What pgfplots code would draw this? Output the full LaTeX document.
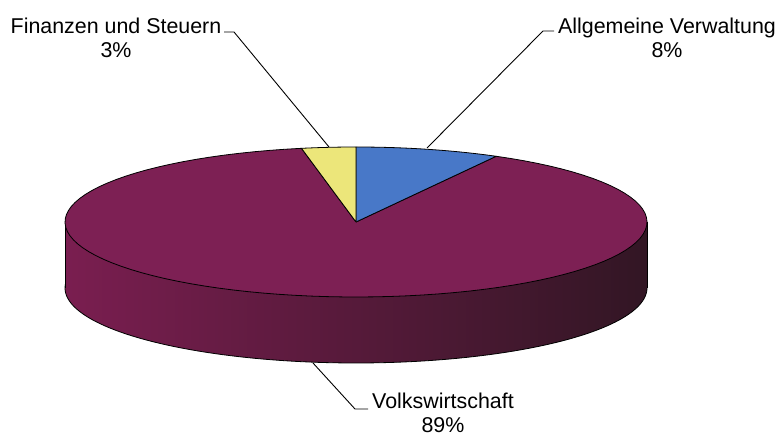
\documentclass[border=0pt]{standalone}
\usepackage{pgfplots}
\usepackage{pgfplotstable}
\pgfplotsset{compat=1.18}
\usepackage{fontspec}
\setmainfont{Liberation Sans}
\definecolor{topPurple}{RGB}{125,32,84}
\definecolor{sideL}{RGB}{122,30,80}
\definecolor{sideM}{RGB}{112,28,72}
\definecolor{sideR}{RGB}{50,22,36}
\definecolor{sliceBlue}{RGB}{72,120,200}
\definecolor{sliceYellow}{RGB}{236,230,122}

\pgfplotstableread{
label value
Volkswirtschaft 89
Verwaltung 8
Finanzen 3
}\piedata
\pgfplotstablegetelem{0}{value}\of\piedata \pgfmathsetmacro\vV{\pgfplotsretval}
\pgfplotstablegetelem{1}{value}\of\piedata \pgfmathsetmacro\vA{\pgfplotsretval}
\pgfplotstablegetelem{2}{value}\of\piedata \pgfmathsetmacro\vF{\pgfplotsretval}
\def\cx{356}\def\cy{214}\def\ra{291}\def\rb{75}\def\hh{66}
\pgfmathsetmacro\aBs{90-3.6*\vA}
\pgfmathsetmacro\aBe{90}
\pgfmathsetmacro\aYs{90}
\pgfmathsetmacro\aYe{90+3.6*\vF}
\pgfmathsetmacro\aPs{\aYe}
\pgfmathsetmacro\aPe{\aYe+3.6*\vV}

\begin{document}
\begin{tikzpicture}
\begin{axis}[
  width=779pt, height=436pt, scale only axis,
  xmin=0, xmax=779, ymin=0, ymax=436,
  axis lines=none, ticks=none,
  clip=false,
  every axis plot/.append style={line width=0.8pt, line join=round},
]
\coordinate (bbSW) at (rel axis cs:0,0);
\coordinate (bbNE) at (rel axis cs:1,1);
% bottom ellipse (side bottom)
\addplot[draw=black, left color=sideL, middle color=sideM, right color=sideR, domain=0:360, samples=241, variable=\t]
  ({\cx+\ra*cos(\t)}, {\cy-\hh+\rb*sin(\t)});
% side rectangle
\addplot[draw=none, left color=sideL, middle color=sideM, right color=sideR]
  coordinates {(\cx-\ra,\cy) (\cx+\ra,\cy) (\cx+\ra,\cy-\hh) (\cx-\ra,\cy-\hh)} -- cycle;
% vertical edges
\addplot[black] coordinates {(\cx-\ra,\cy) (\cx-\ra,\cy-\hh)};
\addplot[black] coordinates {(\cx+\ra,\cy) (\cx+\ra,\cy-\hh)};
% top face: purple slice
\addplot[draw=black, fill=topPurple, domain=-1:101, samples=103, variable=\t]
  ({ifthenelse(\t<-0.5||\t>100.5, \cx, \cx+\ra*cos(\aPs+(\aPe-\aPs)*\t/100))},
   {ifthenelse(\t<-0.5||\t>100.5, \cy, \cy+\rb*sin(\aPs+(\aPe-\aPs)*\t/100))});
% blue slice
\addplot[draw=black, fill=sliceBlue, domain=-1:41, samples=43, variable=\t]
  ({ifthenelse(\t<-0.5||\t>40.5, \cx, \cx+\ra*cos(\aBs+(\aBe-\aBs)*\t/40))},
   {ifthenelse(\t<-0.5||\t>40.5, \cy, \cy+\rb*sin(\aBs+(\aBe-\aBs)*\t/40))});
% yellow slice
\addplot[draw=black, fill=sliceYellow, domain=-1:21, samples=23, variable=\t]
  ({ifthenelse(\t<-0.5||\t>20.5, \cx, \cx+\ra*cos(\aYs+(\aYe-\aYs)*\t/20))},
   {ifthenelse(\t<-0.5||\t>20.5, \cy, \cy+\rb*sin(\aYs+(\aYe-\aYs)*\t/20))});
% leader lines
\addplot[black, line width=0.9pt] coordinates {(224,404) (234,404) (329,289)};
\addplot[black, line width=0.9pt] coordinates {(554,405) (543,405) (427,288)};
\addplot[black, line width=0.9pt] coordinates {(313,73) (355,27) (368,27)};
% labels
\node[align=center, inner sep=0pt, font=\fontsize{21.4}{24}\selectfont] at (axis cs:116,398)
  {Finanzen und Steuern\\3\%};
\node[align=center, inner sep=0pt, font=\fontsize{21.4}{24}\selectfont] at (axis cs:667,398)
  {Allgemeine Verwaltung\\8\%};
\node[align=center, inner sep=0pt, font=\fontsize{21.4}{24}\selectfont] at (axis cs:443,23)
  {Volkswirtschaft\\89\%};
\end{axis}
\pgfresetboundingbox
\path (bbSW) rectangle (bbNE);
\end{tikzpicture}
\end{document}
